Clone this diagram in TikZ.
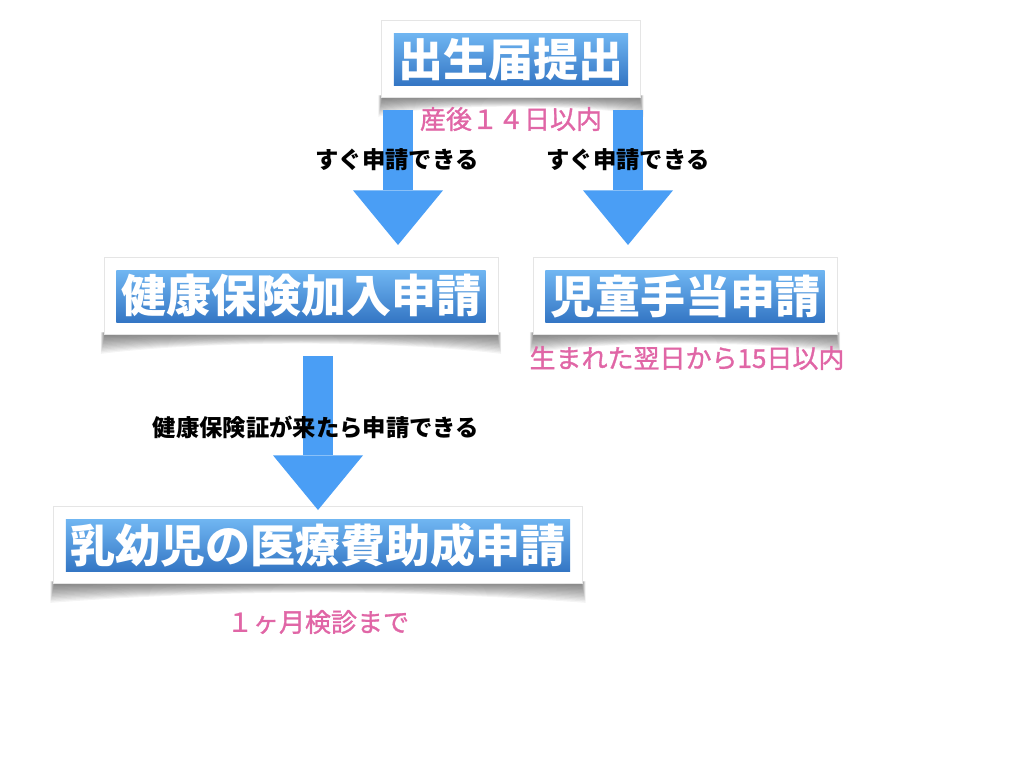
\documentclass[tikz,border=0pt]{standalone}
\usepackage{fontspec}
\setmainfont{Noto Sans CJK JP}
\newfontface\jpmed{Noto Sans CJK JP}[FakeBold=1.2]
\usetikzlibrary{arrows.meta,calc,fit,backgrounds}
\definecolor{arrowblue}{RGB}{74,158,245}
\definecolor{boxtop}{RGB}{112,182,242}
\definecolor{boxbot}{RGB}{52,118,196}
\definecolor{notepink}{RGB}{224,102,166}
\tikzstyle{stepbox}=[rectangle,top color=boxtop,bottom color=boxbot,text=white,font=\bfseries\fontsize{33.75}{36}\selectfont,minimum height=39pt,inner xsep=3.5pt,inner ysep=0pt]
\tikzstyle{stepframe}=[rectangle,fill=white,draw=black!10,inner sep=9pt]
\tikzstyle{flow}=[draw=arrowblue,line width=22.5pt,-{Triangle[length=41pt,width=67.5pt,line width=0pt,fill=arrowblue]}]
\tikzstyle{cond}=[font=\bfseries\fontsize{17.5}{20}\selectfont,text=black,inner sep=0pt]
\tikzstyle{limit}=[font=\jpmed\fontsize{19.5}{22}\selectfont,text=notepink,inner sep=0pt]

\begin{document}
\begin{tikzpicture}[x=0.75pt,y=-0.75pt]
    \useasboundingbox (0,0) rectangle (1024,768);
    \node[stepbox] (n1) at (511,59)  {出生届提出};
    \node[stepbox] (n2) at (301,296) {健康保険加入申請};
    \node[stepbox] (n3) at (685,296) {児童手当申請};
    \node[stepbox] (n4) at (318,545) {乳幼児の医療費助成申請};

    % soft curled shadow under each frame
    \begin{scope}[on background layer]
    \foreach \b in {n1,n2,n3,n4} {
        \foreach \k in {1,...,14}
        \fill[black,opacity=0.045] ($(\b.south west)+(-11-0.3*\k,10)$) -- ($(\b.south west)+(-11-0.3*\k,12+1.4*\k)$)
            .. controls ($(\b.south)+(-90,11+0.5*\k)$) and ($(\b.south)+(90,11+0.5*\k)$) .. ($(\b.south east)+(11+0.3*\k,12+1.4*\k)$)
            -- ($(\b.south east)+(11+0.3*\k,10)$) -- cycle;
        \node[stepframe,fit=(\b)] (\b f) {};
    }
    \end{scope}

    \coordinate (s1) at (398,110);
    \coordinate (t1) at (398,245);
    \coordinate (s2) at (628,110);
    \coordinate (t2) at (628,245);
    \coordinate (s3) at (318,356);
    \coordinate (t3) at (318,510);
    \foreach \from/\to in {s1/t1,s2/t2,s3/t3}
    \draw[flow] (\from) -- (\to);

    \node[cond] (c1) at (397,160) {すぐ申請できる};
    \node[cond] (c2) at (628,160) {すぐ申請できる};
    \node[cond] (c3) at (316,427) {健康保険証が来たら申請できる};
    \node[limit] (l1) at (511,119) {産後１４日以内};
    \node[limit] (l2) at (687,358) {生まれた翌日から15日以内};
    \node[limit] (l3) at (318,622) {１ヶ月検診まで};
\end{tikzpicture}
\end{document}
